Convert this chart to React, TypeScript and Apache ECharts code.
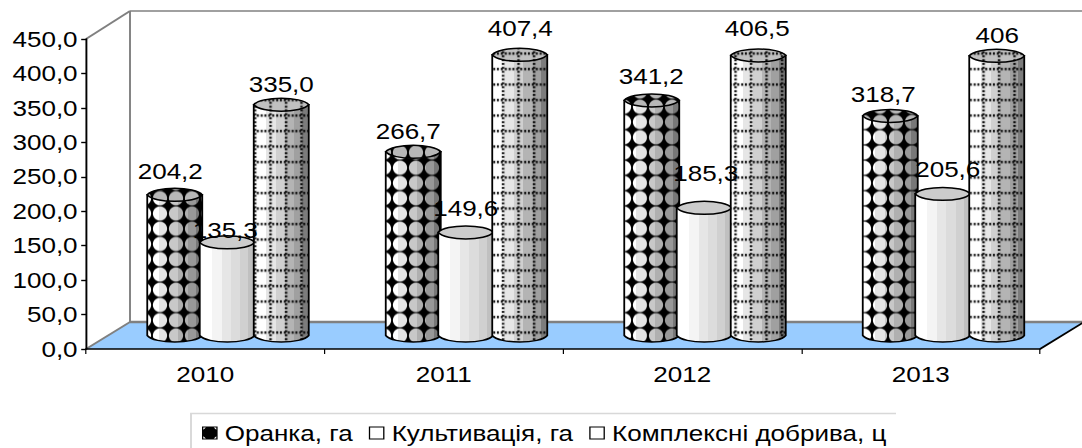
import React, { useEffect, useRef } from "react";
import * as echarts from "echarts";

const years = ["2010", "2011", "2012", "2013"];
const seriesNames = ["Оранка, га", "Культивація, га", "Комплексні добрива, ц"];
const oranka = [204.2, 266.7, 341.2, 318.7];
const kultyvatsiya = [135.3, 149.6, 185.3, 205.6];
const dobryva = [335.0, 407.4, 406.5, 406];
const orankaLabels = ["204,2", "266,7", "341,2", "318,7"];
const kultyvatsiyaLabels = ["135,3", "149,6", "185,3", "205,6"];
const dobryvaLabels = ["335,0", "407,4", "406,5", "406"];

// The reference is a horizontally stretched picture: the whole chart is stretched the same way.
const S = 1.2;
const W = 1082;
const H = 448;
const FONT = "'Liberation Sans', Arial, sans-serif";
const FS = 21.7;
const X = (px: number) => px / S;

const DEPTH_X = X(44);
const DEPTH_Y = -27;
const BAR_W = X(55);
const BAR_OFFSETS = [X(-52.5), 0, X(54)];
const RY = 6.5;

// label nudges from the top of each cylinder, [dx, dy] in page pixels
const labelNudges = [
  [[-4.5, -24], [-5, -20], [-0.5, -24], [-7, -22]],
  [[-2, -12], [0, -24], [1.5, -35], [5, -25]],
  [[0, -20], [0.5, -27], [-1, -27], [0.5, -21]],
];

echarts.graphic.registerShape(
  "cylBody",
  echarts.graphic.extendShape({
    shape: { l: 0, r: 0, yt: 0, yb: 0, bulge: 0 },
    buildPath(ctx: any, s: any) {
      const d = (s.r - s.l) * 0.12;
      ctx.moveTo(s.l, s.yt);
      ctx.lineTo(s.l, s.yb);
      ctx.bezierCurveTo(s.l + d, s.yb + s.bulge, s.r - d, s.yb + s.bulge, s.r, s.yb);
      ctx.lineTo(s.r, s.yt);
      ctx.closePath();
    },
  })
);
echarts.graphic.registerShape(
  "cylTop",
  echarts.graphic.extendShape({
    shape: { l: 0, r: 0, yt: 0, bulge: 0 },
    buildPath(ctx: any, s: any) {
      const d = (s.r - s.l) * 0.12;
      ctx.moveTo(s.l, s.yt);
      ctx.bezierCurveTo(s.l + d, s.yt - s.bulge, s.r - d, s.yt - s.bulge, s.r, s.yt);
      ctx.bezierCurveTo(s.r - d, s.yt + s.bulge, s.l + d, s.yt + s.bulge, s.l, s.yt);
      ctx.closePath();
    },
  })
);

function orankaPattern() {
  const c = document.createElement("canvas");
  c.width = 64;
  c.height = 61;
  const g = c.getContext("2d")!;
  g.fillStyle = "#000";
  g.fillRect(0, 0, 64, 61);
  g.globalCompositeOperation = "destination-out";
  for (const [x, y] of [[0, 0], [64, 0], [0, 61], [64, 61]]) {
    g.beginPath();
    g.arc(x, y, 28.5, 0, Math.PI * 2);
    g.fill();
  }
  return { image: c, repeat: "repeat", scaleX: 1 / (4 * S), scaleY: 1 / 4 };
}

function dobryvaPattern() {
  const c = document.createElement("canvas");
  c.width = 62;
  c.height = 62;
  const g = c.getContext("2d")!;
  g.fillStyle = "#000";
  for (let i = 4; i < 62; i += 15.5) {
    g.fillRect(24, i, 9, 8);
    g.fillRect(i, 24, 8, 9);
  }
  return { image: c, repeat: "repeat", scaleX: 1 / (4 * S), scaleY: 1 / 4 };
}

function bands(cols: string[], edges: number[]) {
  const stops: { offset: number; color: string }[] = [];
  cols.forEach((color, i) => {
    stops.push({ offset: edges[i], color });
    stops.push({ offset: edges[i + 1], color });
  });
  return new echarts.graphic.LinearGradient(0, 0, 1, 0, stops);
}

export default function App() {
  const ref = useRef<HTMLDivElement>(null);
  useEffect(() => {
    document.body.style.margin = "0";
    const chart = echarts.init(ref.current!, undefined, { renderer: "svg" });
    const edges = [0, 0.22, 0.4, 0.56, 0.74, 0.88, 1];
    const looks = [
      {
        body: bands(["#ffffff", "#e4e4e4", "#c8c8c8", "#b0b0b0", "#989898", "#787878"], edges),
        top: "#b8b8b8",
        pattern: orankaPattern(),
      },
      {
        body: bands(["#ffffff", "#f4f4f4", "#e6e6e6", "#dcdcdc", "#d0d0d0", "#c0c0c0"], edges),
        top: "#cccccc",
        pattern: null,
      },
      {
        body: bands(["#ffffff", "#e6e6e6", "#d0d0d0", "#b4b4b4", "#a0a0a0", "#7c7c7c"], edges),
        top: "#c0c0c0",
        pattern: dobryvaPattern(),
      },
    ];
    const lists = [oranka, kultyvatsiya, dobryva];
    const texts = [orankaLabels, kultyvatsiyaLabels, dobryvaLabels];

    const cylinder = (s: number) => (_: any, api: any) => {
      const cat = api.value(0);
      const [cx0, yBase0] = api.coord([cat, 0]);
      const [, yTop0] = api.coord([cat, api.value(1)]);
      const cx = cx0 + BAR_OFFSETS[s] + DEPTH_X / 2;
      const yb = yBase0 + DEPTH_Y / 2;
      const yt = yTop0 + DEPTH_Y / 2;
      const geo = { l: cx - BAR_W / 2, r: cx + BAR_W / 2, yt, yb, bulge: RY * 1.33 };
      const look = looks[s];
      const part = (type: string, fill: any, stroke: string | undefined, z2: number) => ({
        type,
        z2,
        shape: geo,
        style: { fill, stroke, lineWidth: 1.5 },
      });
      const children: any[] = [part("cylBody", look.body, "#000", s * 4 + 1)];
      if (look.pattern) children.push(part("cylBody", look.pattern, undefined, s * 4 + 2));
      children.push(part("cylTop", look.top, "#000", s * 4 + 3));
      if (look.pattern) children.push(part("cylTop", look.pattern, undefined, s * 4 + 4));
      const [dx, dy] = labelNudges[s][cat];
      children.push({
        type: "text",
        z2: 100,
        x: cx + dx / S,
        y: yt + dy,
        style: {
          text: texts[s][cat],
          fill: "#000",
          font: `${FS}px ${FONT}`,
          align: "center",
          verticalAlign: "middle",
        },
      });
      return { type: "group", children };
    };

    const walls = (params: any) => {
      const { x, y, width, height } = params.coordSys;
      const x1 = x + width;
      const y0 = y + height;
      const bx = x + DEPTH_X;
      const by = y + DEPTH_Y - 1;
      const by0 = y0 + DEPTH_Y;
      const bx1 = x1 + DEPTH_X;
      const line = (a: number[], b: number[], stroke: string, lineWidth: number) => ({
        type: "line",
        z2: -5,
        shape: { x1: a[0], y1: a[1], x2: b[0], y2: b[1] },
        style: { stroke, lineWidth },
      });
      return {
        type: "group",
        children: [
          {
            type: "polygon",
            z2: -6,
            shape: { points: [[x, y0], [x1, y0], [bx1, by0], [bx, by0]] },
            style: { fill: "#99ccff" },
          },
          line([x, y], [bx, by], "#808080", 1.6),
          line([bx, by], [bx1, by], "#808080", 1.6),
          line([bx, by], [bx, by0], "#808080", 1.6),
          line([x, y0], [bx, by0], "#808080", 1.6),
          line([bx, by0], [bx1, by0], "#808080", 2.6),
          line([x1, y0], [bx1, by0], "#000", 1.6),
        ],
      };
    };

    const legendIcon = "path://M0,0H12V12H0Z M1,1V11H11V1Z M3,1L9,1L11,3L11,9L9,11L3,11L1,9L1,3Z";
    const boxIcon = "path://M0,0H12V12H0Z M1,1V11H11V1Z";

    chart.setOption({
      animation: false,
      grid: { left: X(86), top: 39, width: X(954), height: 310, containLabel: false },
      xAxis: {
        type: "category",
        data: years,
        z: 5,
        axisLine: { lineStyle: { color: "#000", width: 1.6 } },
        axisTick: { show: true, length: 5, lineStyle: { color: "#000", width: 1 } },
        axisLabel: { color: "#000", fontFamily: FONT, fontSize: FS, margin: 14 },
      },
      yAxis: {
        type: "value",
        min: 0,
        max: 450,
        interval: 50,
        z: 5,
        axisLine: { show: true, lineStyle: { color: "#000", width: 1.6 } },
        axisTick: { show: true, length: 4, lineStyle: { color: "#000", width: 1.4 } },
        splitLine: { show: false },
        axisLabel: {
          color: "#000",
          fontFamily: FONT,
          fontSize: FS,
          margin: 7,
          formatter: (v: number) => v.toFixed(1).replace(".", ","),
        },
      },
      legend: {
        left: X(202),
        top: 422,
        itemWidth: 13,
        itemHeight: 13,
        itemGap: 13.5,
        selectedMode: false,
        padding: 0,
        textStyle: { color: "#000", fontFamily: FONT, fontSize: FS, padding: [0, 0, 0, 1] },
        data: [
          { name: seriesNames[0], icon: legendIcon, itemStyle: { color: "#000", borderWidth: 0 } },
          { name: seriesNames[1], icon: boxIcon, itemStyle: { color: "#000", borderWidth: 0 } },
          { name: seriesNames[2], icon: boxIcon, itemStyle: { color: "#000", borderWidth: 0 } },
        ],
      },
      graphic: [
        {
          type: "polyline",
          silent: true,
          shape: { points: [[X(191), H], [X(191), 413.5], [X(896), 413.5]] },
          style: { fill: "none", stroke: "#d8d8d8", lineWidth: 1.6 },
        },
      ],
      series: [
        {
          type: "custom",
          name: "walls",
          renderItem: walls,
          data: [[0, 0]],
          encode: { x: 0, y: 1 },
          silent: true,
          clip: false,
        },
        ...lists.map((values, s) => ({
          type: "custom",
          name: seriesNames[s],
          renderItem: cylinder(s),
          encode: { x: 0, y: 1 },
          clip: false,
          data: values.map((v, i) => [i, v]),
          itemStyle: { color: "#000" },
        })),
      ],
    });
    return () => chart.dispose();
  }, []);
  return (
    <div style={{ width: W, height: H, overflow: "hidden" }}>
      <div
        ref={ref}
        style={{ width: W / S, height: H, transform: `scaleX(${S})`, transformOrigin: "0 0" }}
      />
    </div>
  );
}
